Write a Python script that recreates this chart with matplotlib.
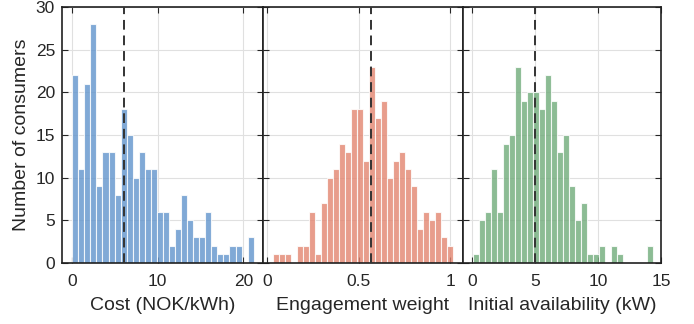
import numpy as np
import matplotlib
matplotlib.use("Agg")
import matplotlib.pyplot as plt

plt.rcParams['font.family'] = ['Liberation Sans', 'DejaVu Sans']

# histogram counts (30 bins each)
cost_counts = [22, 11, 21, 28, 9, 13, 13, 8, 18, 15, 10, 13, 11, 11, 6,
               6, 2, 4, 8, 5, 3, 3, 6, 2, 1, 1, 2, 2, 0, 3]
cost_start, cost_width = 0.0, 0.707
cost_mean = 6.0

eng_counts = [1, 1, 1, 0, 2, 2, 6, 1, 7, 10, 11, 14, 13, 18, 18,
              12, 23, 17, 19, 10, 12, 13, 11, 9, 4, 6, 5, 6, 3, 2]
eng_start, eng_width = 0.0326, 0.0328
eng_mean = 0.567

avail_counts = [1, 5, 6, 11, 6, 14, 15, 23, 19, 20, 20, 18, 22, 19, 13,
                15, 9, 5, 7, 1, 1, 2, 0, 2, 1, 0, 0, 0, 0, 2]
avail_start, avail_width = 0.08, 0.477
avail_mean = 5.0

xlabels = ['Cost (NOK/kWh)', 'Engagement weight', 'Initial availability (kW)']
xticks = [[0, 10, 20], [0, 0.5, 1], [0, 5, 10, 15]]
xtick_labels = [['0', '10', '20'], ['0', '0.5', '1'], ['0', '5', '10', '15']]
xlims = [(-1.2, 22.3), (-0.024, 1.069), (-0.74, 15)]
colors = [(0.38, 0.58, 0.80), (0.89, 0.52, 0.44), (0.44, 0.67, 0.48)]

panels = [(cost_counts, cost_start, cost_width, cost_mean),
          (eng_counts, eng_start, eng_width, eng_mean),
          (avail_counts, avail_start, avail_width, avail_mean)]

fig = plt.figure(figsize=(6.94, 3.24), dpi=100)
lefts = [62, 263, 463]
rights = [263, 463, 661]
bottom = 1 - 263 / 324
top = 1 - 7 / 324

for i, (counts, start, width, mean) in enumerate(panels):
    ax = fig.add_axes([lefts[i] / 694, bottom, (rights[i] - lefts[i]) / 694, top - bottom])
    edges = start + width * np.arange(len(counts))
    ax.bar(edges, counts, width=width, align='edge', color=colors[i], alpha=0.8,
           edgecolor='white', linewidth=0.8, zorder=2)
    ax.axvline(mean, color='#333333', linestyle=(0, (5, 3)), linewidth=1.4, zorder=3)
    ax.set_xlim(*xlims[i])
    ax.set_ylim(0, 30)
    ax.set_xticks(xticks[i])
    ax.set_xticklabels(xtick_labels[i])
    ax.set_yticks(range(0, 31, 5))
    ax.grid(True, color='#e0e0e0', linewidth=0.8, zorder=0)
    ax.set_axisbelow(True)
    ax.tick_params(direction='in', top=True, right=True, length=4, width=0.8,
                   labelsize=12.5, colors='#262626')
    ax.tick_params(axis='x', pad=8)
    ax.tick_params(axis='y', pad=5)
    if i > 0:
        ax.tick_params(labelleft=False)
    else:
        ax.set_ylabel('Number of consumers', fontsize=14, color='#262626', labelpad=4)
    ax.set_xlabel(xlabels[i], fontsize=14, color='#262626', labelpad=6)
    for s in ax.spines.values():
        s.set_color('#202020')
        s.set_linewidth(1.2)

fig.savefig('out.png', dpi=100)
